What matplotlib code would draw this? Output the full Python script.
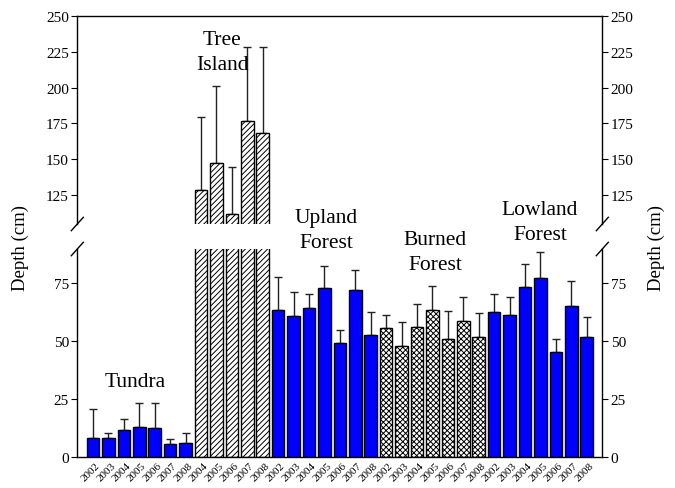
import matplotlib
matplotlib.use("Agg")
import matplotlib.pyplot as plt
import numpy as np

# bar heights (cm) and upper standard errors
tundra_years = ["2002", "2003", "2004", "2005", "2006", "2007", "2008"]
tundra_mean = [8.2, 8.0, 11.4, 12.9, 12.5, 5.4, 5.7]
tundra_err = [12.5, 2.1, 5.0, 10.1, 10.5, 2.2, 4.4]

tree_years = ["2004", "2005", "2006", "2007", "2008"]
tree_mean = [128.4, 147.4, 112.0, 176.5, 168.3]
tree_err = [50.8, 53.9, 32.9, 51.9, 59.7]

upland_years = ["2002", "2003", "2004", "2005", "2006", "2007", "2008"]
upland_mean = [63.2, 60.8, 64.2, 72.7, 48.9, 71.8, 52.3]
upland_err = [14.4, 10.3, 5.8, 9.6, 5.7, 8.5, 9.9]

burned_years = ["2002", "2003", "2004", "2005", "2006", "2007", "2008"]
burned_mean = [55.5, 47.6, 56.0, 63.1, 50.9, 58.3, 51.4]
burned_err = [5.4, 10.6, 9.7, 10.3, 12.0, 10.7, 10.7]

lowland_years = ["2002", "2003", "2004", "2005", "2006", "2007", "2008"]
lowland_mean = [62.4, 61.2, 73.3, 77.2, 45.3, 65.1, 51.6]
lowland_err = [7.9, 7.8, 9.6, 11.2, 5.3, 10.6, 8.5]

plt.rcParams['font.family'] = ['Liberation Serif', 'DejaVu Serif']
plt.rcParams['hatch.linewidth'] = 0.7

W, H = 675, 489
fig = plt.figure(figsize=(W / 100, H / 100), dpi=100)
left, width = 77.3 / W, 525 / W
ax_top = fig.add_axes([left, 1 - 225 / H, width, (225 - 16.7) / H])
ax_bot = fig.add_axes([left, 1 - 457.7 / H, width, (457.7 - 250) / H])

groups = [
    (tundra_years, tundra_mean, tundra_err, dict(color='#0000ff')),
    (tree_years, tree_mean, tree_err, dict(color='white', hatch='//////')),
    (upland_years, upland_mean, upland_err, dict(color='#0000ff')),
    (burned_years, burned_mean, burned_err, dict(color='white', hatch='xxxxxx')),
    (lowland_years, lowland_mean, lowland_err, dict(color='#0000ff')),
]

labels = []
start = 0
for years, mean, err, style in groups:
    x = np.arange(start, start + len(years))
    for ax in (ax_top, ax_bot):
        ax.errorbar(x, mean, yerr=[np.zeros(len(err)), err], fmt='none',
                    ecolor='#222222', elinewidth=1.0, capsize=3, capthick=1.0,
                    zorder=1)
        ax.bar(x, mean, width=0.82, edgecolor='black', linewidth=1.0,
               zorder=2, **style)
    labels += years
    start += len(years)

n = len(labels)
for ax in (ax_top, ax_bot):
    ax.set_xlim(-1.02, n + 0.01)
    ax.tick_params(axis='y', which='both', direction='out', length=4,
                   labelsize=11, left=True, right=True, labelleft=True,
                   labelright=True, pad=2)
    for s in ax.spines.values():
        s.set_linewidth(1.0)

ax_top.set_ylim(105, 250)
ax_top.set_yticks([125, 150, 175, 200, 225, 250])
ax_top.spines['bottom'].set_visible(False)
ax_top.set_xticks([])

ax_bot.set_ylim(0, 89.5)
ax_bot.set_yticks([0, 25, 50, 75])
ax_bot.spines['top'].set_visible(False)
ax_bot.set_xticks(np.arange(n) + 0.15)
ax_bot.set_xticklabels(labels, rotation=45, ha='right', va='top',
                       rotation_mode='anchor', fontsize=8)
ax_bot.tick_params(axis='x', length=0, pad=3)

# break marks on both spines
dx = 6 / 525
dy_t = 6.7 / 208.3
dy_b = 6.7 / 207.7
for xc in (0, 1):
    ax_top.plot([xc - dx, xc + dx], [-dy_t, dy_t], color='black', lw=1.0,
                transform=ax_top.transAxes, clip_on=False)
    ax_bot.plot([xc - dx, xc + dx], [1 - dy_b, 1 + dy_b], color='black',
                lw=1.0, transform=ax_bot.transAxes, clip_on=False)

# axis titles and group names
fig.text(20 / W, 1 - 248 / H, 'Depth (cm)', rotation=90, fontsize=13.5,
         ha='center', va='center')
fig.text(656 / W, 1 - 248 / H, 'Depth (cm)', rotation=90, fontsize=13.5,
         ha='center', va='center')

group_text = [
    ('Tundra', 135, 383),
    ('Tree\nIsland', 222, 53),
    ('Upland\nForest', 326, 231),
    ('Burned\nForest', 435, 253),
    ('Lowland\nForest', 540, 223),
]
for txt, px, py in group_text:
    fig.text(px / W, 1 - py / H, txt, fontsize=15.5, ha='center', va='center',
             linespacing=1.45)

fig.savefig('out.png', dpi=100)
